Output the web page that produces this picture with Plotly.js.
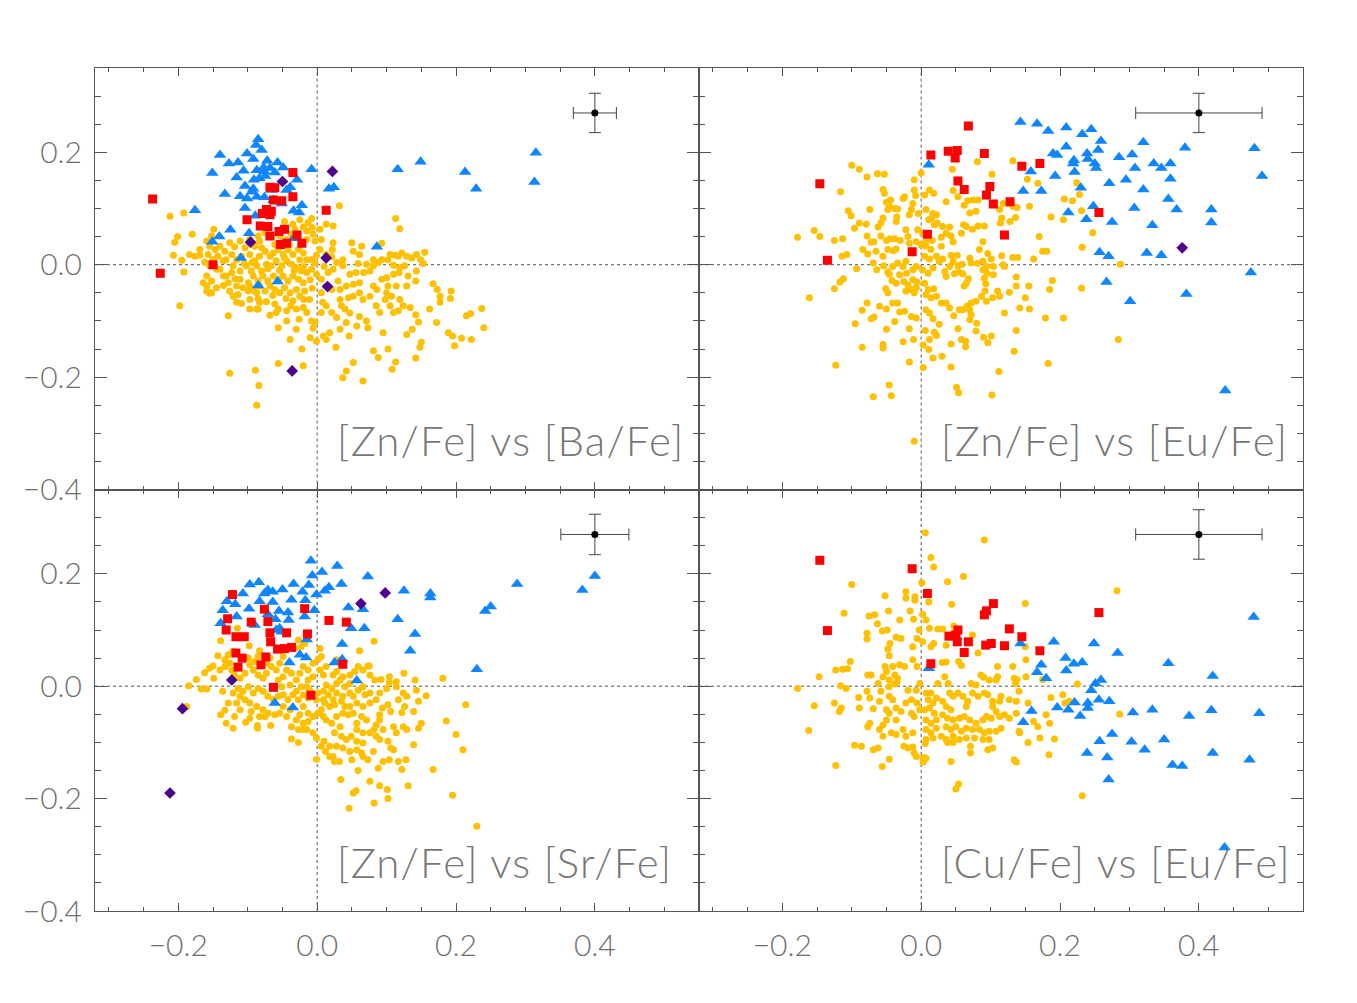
<!DOCTYPE html>
<html>
<head>
<meta charset="utf-8">
<script src="https://cdn.plot.ly/plotly-3.0.1.min.js"></script>
<style>
  html, body { margin: 0; padding: 0; background: #ffffff; }
  #chart { width: 1357px; height: 1003px; }
</style>
</head>
<body>
<div id="chart"></div>
<script>
// ---------------------------------------------------------------
// Abundance-ratio diagrams: four panels, [X/Fe] vs [Y/Fe]
// Groups: thin disc (yellow), thick disc (blue), transition (red),
// high-velocity stars (purple). Each entry is [x, y] in dex.
// ---------------------------------------------------------------

// Panel titles
const panelTitles = ['[Zn/Fe] vs [Ba/Fe]', '[Zn/Fe] vs [Eu/Fe]', '[Zn/Fe] vs [Sr/Fe]', '[Cu/Fe] vs [Eu/Fe]'];

// Axis tick labels (major ticks every 0.2 dex)
const xTickValues = [-0.2, 0.0, 0.2, 0.4];
const yTickValues = [-0.4, -0.2, 0.0, 0.2];

// Typical uncertainty crosses (centre and half-widths), one per panel
const errCenterX = [0.40, 0.40, 0.40, 0.40];
const errCenterY = [0.27, 0.27, 0.27, 0.27];
const errHalfX = [0.031, 0.091, 0.049, 0.091];
const errHalfY = [0.035, 0.035, 0.036, 0.044];

// ---------------- [Zn/Fe] vs [Ba/Fe] ----------------
const baYellow = [
[-0.212,0.086],[-0.192,0.092],[-0.180,0.054],[-0.201,0.050],[-0.205,0.040],[-0.207,0.017],[-0.195,0.008],[-0.192,-0.013],
[-0.184,0.018],[-0.176,0.015],[-0.169,0.017],[-0.198,-0.073],[-0.149,0.063],[-0.128,-0.091],[-0.126,-0.193],[-0.089,-0.188],
[-0.084,-0.215],[-0.087,-0.250],[-0.056,-0.176],[-0.020,-0.180],[0.032,0.105],[-0.008,0.082],[0.113,0.082],[0.119,0.064],
[0.237,-0.078],[0.240,-0.112],[0.221,-0.087],[0.215,-0.091],[0.222,-0.133],[0.208,-0.131],[0.198,-0.144],[0.189,-0.121],
[0.195,-0.127],[0.193,-0.047],[0.192,-0.060],[0.177,-0.056],[0.177,-0.067],[0.167,-0.034],[0.173,-0.044],[0.162,-0.079],
[0.172,-0.103],[0.155,0.022],[0.149,0.009],[0.153,0.002],[0.143,-0.011],[0.142,-0.029],[0.142,-0.089],[0.146,-0.102],
[0.134,-0.076],[0.129,-0.038],[0.131,-0.020],[0.142,-0.166],[0.150,-0.138],[0.148,-0.147],[0.129,-0.124],[0.137,-0.115],
[0.113,-0.173],[0.108,-0.186],[0.102,-0.150],[0.095,-0.121],[0.088,-0.165],[0.081,-0.153],[0.066,-0.207],[0.052,-0.174],
[0.042,-0.189],[0.037,-0.201],[0.027,-0.147],[0.046,-0.127],[0.033,-0.115],[0.018,-0.121],[0.013,-0.133],[0.009,-0.127],
[-0.001,-0.136],[-0.010,-0.130],[-0.022,-0.150],[-0.039,-0.133],[-0.030,-0.115],[-0.006,-0.113],[-0.003,-0.102],[-0.008,-0.100],
[-0.044,-0.100],[-0.056,-0.112],[-0.068,-0.090],[-0.085,-0.079],[-0.116,-0.067],[-0.109,-0.069],[-0.097,-0.062],[-0.114,-0.053],
[-0.099,-0.047],[-0.087,-0.050],[-0.085,-0.060],[-0.073,-0.066],[-0.061,-0.070],[-0.056,-0.079],[-0.059,-0.085],[-0.044,-0.082],
[-0.038,-0.073],[-0.030,-0.079],[-0.020,-0.076],[-0.015,-0.085],[-0.026,-0.097],[-0.035,-0.064],[-0.025,-0.056],[-0.019,-0.062],
[-0.011,-0.062],[-0.007,-0.042],[0.006,-0.050],[0.008,-0.067],[0.013,-0.073],[0.006,-0.085],[0.021,-0.085],[0.028,-0.094],
[0.035,-0.073],[0.040,-0.079],[0.047,-0.086],[0.061,-0.092],[0.057,-0.109],[0.042,-0.103],[0.071,-0.100],[0.073,-0.112],
[0.085,-0.073],[0.090,-0.085],[0.098,-0.062],[0.105,-0.073],[0.110,-0.085],[0.117,-0.082],[0.119,-0.062],[0.124,-0.073],
[0.100,-0.050],[0.107,-0.056],[0.102,-0.038],[0.114,-0.038],[0.093,-0.026],[0.100,-0.023],[0.110,-0.017],[0.118,-0.014],
[0.081,-0.038],[0.086,-0.044],[0.076,-0.056],[0.066,-0.062],[0.061,-0.050],[0.052,-0.056],[0.061,-0.032],[0.052,-0.035],
[0.042,-0.038],[0.033,-0.044],[0.047,-0.017],[0.056,-0.014],[0.067,-0.014],[0.076,-0.011],[0.081,-0.002],[0.088,0.004],
[0.093,0.009],[0.102,0.009],[0.105,0.018],[0.112,0.017],[0.117,0.015],[0.122,0.021],[0.129,0.015],[0.136,0.012],
[0.143,0.018],[0.126,-0.002],[0.119,-0.005],[0.110,-0.001],[0.093,0.038],[0.081,0.009],[0.061,0.018],[0.064,0.033],
[0.052,0.024],[0.050,0.039],[0.059,0.002],[0.071,0.001],[0.037,0.009],[0.028,0.004],[0.037,-0.002],[0.022,0.027],
[0.013,0.018],[0.021,0.014],[0.023,0.039],[0.004,0.027],[-0.001,0.017],[-0.008,0.009],[0.006,0.045],[-0.003,0.042],
[-0.006,0.054],[-0.015,0.060],[-0.020,0.067],[-0.007,0.066],[-0.013,0.075],[0.013,0.072],[0.023,0.069],[0.004,0.063],
[-0.001,-0.017],[0.006,-0.026],[0.016,-0.014],[0.023,-0.008],[0.013,-0.038],[0.021,-0.044],[0.030,-0.029],[0.033,-0.062],
[0.045,-0.059],[-0.155,0.033],[-0.147,0.027],[-0.140,0.033],[-0.133,0.024],[-0.157,0.018],[-0.150,0.009],[-0.143,0.015],
[-0.135,0.007],[-0.162,0.005],[-0.155,-0.002],[-0.145,-0.008],[-0.159,-0.020],[-0.152,-0.029],[-0.159,-0.038],[-0.152,-0.050],
[-0.145,-0.041],[-0.135,-0.037],[-0.131,-0.020],[-0.123,-0.014],[-0.128,-0.032],[-0.121,-0.056],[-0.126,-0.047],[-0.116,-0.038],
[-0.111,-0.026],[-0.107,-0.041],[-0.099,-0.032],[-0.131,0.009],[-0.123,0.018],[-0.116,0.009],[-0.109,0.015],[-0.126,0.039],
[-0.119,0.032],[-0.111,0.042],[-0.104,0.030],[-0.097,0.045],[-0.090,0.033],[-0.083,0.042],[-0.097,0.018],[-0.090,0.007],
[-0.083,0.015],[-0.075,0.024],[-0.068,0.015],[-0.102,-0.002],[-0.095,-0.011],[-0.087,-0.002],[-0.080,-0.011],[-0.073,0.001],
[-0.066,-0.002],[-0.059,0.007],[-0.051,-0.002],[-0.044,0.007],[-0.037,0.001],[-0.063,0.021],[-0.056,0.027],[-0.049,0.018],
[-0.042,0.027],[-0.035,0.018],[-0.027,0.027],[-0.020,0.021],[-0.015,0.009],[-0.025,0.009],[-0.030,-0.005],[-0.023,-0.011],
[-0.015,-0.014],[-0.008,-0.008],[-0.092,-0.020],[-0.085,-0.029],[-0.078,-0.020],[-0.071,-0.029],[-0.063,-0.020],[-0.056,-0.026],
[-0.049,-0.020],[-0.042,-0.029],[-0.035,-0.020],[-0.027,-0.026],[-0.020,-0.032],[-0.097,-0.038],[-0.090,-0.047],[-0.083,-0.038],
[-0.075,-0.047],[-0.068,-0.038],[-0.061,-0.044],[-0.054,-0.050],[-0.047,-0.041],[-0.039,-0.050],[-0.030,-0.044],[-0.018,-0.047],
[-0.140,-0.008],[-0.135,-0.020],[-0.121,-0.002],[-0.111,-0.011],[-0.085,0.051],[-0.075,0.057],[-0.066,0.051],[-0.054,0.051],
[-0.044,0.045],[-0.037,0.054],[-0.047,0.077],[-0.035,0.072],[-0.025,0.080],[-0.032,0.063],[-0.015,0.045],[-0.159,0.042],
[-0.152,0.051],[-0.169,0.027],[-0.087,-0.079],[-0.083,-0.067],[-0.097,-0.079],[-0.159,-0.047],[-0.155,-0.051],[-0.164,-0.032],
[-0.094,0.004],[-0.071,-0.007],[-0.047,0.012],[-0.033,-0.010],[-0.061,0.036],[-0.040,0.036],[-0.080,0.030],[-0.105,0.002],
[-0.118,-0.025],[-0.064,-0.055],[-0.045,-0.060],[-0.010,-0.027],[-0.003,0.003],[0.010,-0.003],[-0.020,-0.003],[-0.054,-0.010]
];
const baBlue = [
[-0.085,0.223],[-0.088,0.213],[-0.080,0.204],[-0.101,0.198],[-0.140,0.195],[-0.114,0.182],[-0.127,0.180],[-0.092,0.188],
[-0.072,0.185],[-0.057,0.182],[-0.049,0.173],[-0.151,0.163],[-0.116,0.155],[-0.106,0.167],[-0.087,0.168],[-0.077,0.173],
[-0.075,0.158],[-0.061,0.164],[-0.091,0.151],[-0.092,0.135],[-0.104,0.140],[-0.111,0.122],[-0.133,0.126],[-0.101,0.118],
[-0.087,0.121],[-0.076,0.120],[-0.104,0.101],[-0.039,0.138],[-0.029,0.151],[-0.008,0.170],[-0.022,0.106],[-0.034,0.096],
[-0.026,0.093],[-0.176,0.097],[-0.125,0.062],[-0.141,0.050],[-0.151,0.041],[-0.098,0.056],[-0.110,0.012],[-0.089,0.087],
[-0.085,-0.037],[-0.057,-0.030],[0.017,0.135],[0.024,0.138],[-0.034,0.047],[0.086,0.032],[0.116,0.170],[0.149,0.183],
[0.213,0.165],[0.229,0.135],[0.315,0.199],[0.313,0.147],[-0.068,0.172],[-0.083,0.154],[-0.066,0.133],[-0.063,0.115],
[-0.051,0.109],[-0.076,0.166],[-0.094,0.130],[-0.044,0.133]
];
const baRed = [
[-0.237,0.117],[-0.226,-0.015],[-0.150,0.000],[-0.035,0.164],[0.013,0.097],[-0.068,0.138],[-0.061,0.137],[-0.063,0.115],
[-0.051,0.114],[-0.035,0.121],[-0.073,0.098],[-0.066,0.095],[-0.079,0.091],[-0.068,0.089],[-0.101,0.080],[-0.082,0.069],
[-0.071,0.068],[-0.068,0.051],[-0.055,0.059],[-0.047,0.063],[-0.029,0.053],[-0.022,0.038],[-0.053,0.036],[-0.044,0.038]
];
const baPurple = [[-0.050,0.148],[0.022,0.166],[-0.096,0.040],[0.013,0.012],[0.015,-0.039],[-0.036,-0.189]];

// ---------------- [Zn/Fe] vs [Eu/Fe] ----------------
const euYellow = [
[-0.178,0.049],[-0.161,-0.059],[-0.154,0.061],[-0.146,0.050],[-0.125,0.043],[-0.113,0.046],[-0.116,0.130],[-0.100,0.177],
[-0.089,0.170],[-0.078,0.156],[-0.063,0.162],[-0.053,0.161],[-0.105,0.096],[-0.101,0.087],[-0.096,0.065],[-0.089,0.074],
[-0.079,0.072],[-0.074,0.098],[-0.114,0.015],[-0.107,0.018],[-0.125,-0.043],[-0.117,-0.031],[-0.112,-0.025],[-0.093,-0.007],
[-0.095,-0.105],[-0.123,-0.179],[-0.085,-0.147],[-0.078,-0.068],[-0.084,0.027],[-0.077,0.019],[-0.078,0.051],[-0.072,0.040],
[-0.069,0.003],[-0.062,0.067],[-0.058,0.051],[-0.055,0.134],[-0.053,0.127],[-0.050,0.111],[-0.046,0.104],[-0.048,0.098],
[-0.044,0.115],[-0.038,0.100],[-0.034,0.099],[-0.026,0.118],[-0.024,0.121],[-0.035,0.085],[-0.036,0.077],[-0.055,0.083],
[-0.058,0.074],[-0.050,0.043],[-0.045,0.046],[-0.038,0.046],[-0.030,0.043],[-0.040,0.025],[-0.036,0.028],[-0.022,0.062],
[-0.019,0.050],[-0.017,0.089],[-0.014,0.098],[-0.008,0.123],[-0.010,0.133],[-0.012,0.109],[-0.004,0.091],[0.000,0.163],
[-0.010,0.151],[0.005,0.124],[0.012,0.133],[0.018,0.127],[0.007,0.098],[0.017,0.091],[0.022,0.089],[0.011,0.080],
[0.015,0.083],[0.019,0.071],[0.023,0.074],[0.007,0.041],[0.016,0.043],[0.029,0.033],[0.014,0.027],[0.007,0.033],
[0.005,0.015],[0.012,0.010],[0.022,0.015],[0.026,0.006],[0.031,0.010],[0.017,-0.006],[0.010,-0.015],[0.002,-0.009],
[-0.007,-0.003],[-0.012,-0.009],[-0.022,0.006],[-0.026,-0.003],[-0.034,0.003],[-0.041,-0.003],[-0.048,-0.013],[-0.054,-0.002],
[-0.064,-0.009],[-0.046,-0.017],[-0.031,-0.018],[-0.021,-0.015],[-0.051,-0.043],[-0.048,-0.050],[-0.042,-0.028],[-0.036,-0.033],
[-0.025,-0.030],[-0.019,-0.036],[-0.012,-0.027],[-0.006,-0.031],[-0.022,-0.047],[-0.014,-0.044],[-0.010,-0.050],[-0.007,-0.041],
[0.005,-0.033],[0.010,-0.044],[0.018,-0.043],[0.007,-0.053],[0.014,-0.059],[0.034,-0.012],[0.036,-0.021],[0.048,-0.016],
[0.054,-0.013],[0.060,-0.016],[0.068,-0.025],[0.065,-0.033],[0.062,-0.038],[0.043,0.017],[0.052,0.017],[0.053,-0.002],
[0.059,0.001],[0.070,0.012],[0.029,0.049],[0.036,0.056],[0.043,0.051],[0.046,0.041],[0.058,0.056],[0.031,0.068],
[0.041,0.067],[0.046,0.132],[0.053,0.121],[0.062,0.106],[0.067,0.114],[0.045,0.170],[0.036,0.112],[0.070,0.092],
[0.079,0.095],[0.061,0.071],[0.065,0.068],[0.074,0.063],[0.082,0.069],[0.091,0.069],[0.075,0.115],[0.082,0.115],
[0.089,0.041],[0.084,0.027],[0.096,0.020],[0.101,0.010],[0.094,-0.003],[0.089,0.006],[0.072,0.003],[0.081,0.002],
[0.089,-0.009],[0.095,-0.015],[0.104,-0.018],[0.104,-0.003],[0.091,-0.024],[0.093,-0.034],[0.092,-0.047],[0.087,-0.056],
[0.110,-0.047],[0.113,-0.056],[0.094,-0.065],[0.103,-0.059],[0.079,-0.065],[0.072,-0.068],[0.070,-0.080],[0.066,-0.074],
[0.060,-0.080],[0.072,-0.089],[0.070,-0.098],[0.036,-0.068],[0.041,-0.077],[0.047,-0.091],[0.055,-0.080],[0.017,-0.096],
[0.026,-0.106],[0.006,-0.117],[0.019,-0.120],[0.022,-0.126],[0.012,-0.133],[0.030,-0.163],[0.017,-0.166],[0.011,-0.151],
[0.003,-0.143],[0.043,-0.141],[0.053,-0.114],[0.058,-0.133],[0.064,-0.146],[0.064,-0.136],[0.043,-0.182],[0.051,-0.218],
[0.054,-0.228],[0.080,-0.104],[0.079,-0.118],[0.090,-0.129],[0.096,-0.139],[0.101,-0.127],[0.112,-0.190],[0.102,-0.232],
[0.120,-0.086],[0.127,-0.049],[0.137,-0.038],[0.142,-0.077],[0.137,-0.117],[0.134,-0.154],[0.150,-0.059],[0.116,0.016],
[0.132,0.013],[0.139,0.013],[0.118,0.000],[0.120,-0.003],[0.114,0.074],[0.116,0.083],[0.113,0.098],[0.118,0.109],
[0.127,0.109],[0.132,0.104],[0.136,0.084],[0.128,0.077],[0.138,0.102],[0.156,0.104],[0.102,0.161],[0.081,0.183],
[0.132,0.185],[0.153,0.152],[0.168,0.145],[0.170,0.050],[0.162,0.010],[0.175,0.024],[0.181,0.024],[0.187,0.085],
[0.205,0.080],[0.206,0.117],[0.218,0.114],[0.224,0.146],[0.228,0.125],[0.231,0.096],[0.232,0.031],[0.247,0.057],
[0.189,-0.028],[0.185,-0.044],[0.156,-0.079],[0.179,-0.095],[0.205,-0.095],[0.183,-0.176],[0.231,-0.042],[0.287,0.001],
[0.284,-0.133],[-0.005,0.062],[0.002,0.056],[-0.007,0.041],[0.000,0.035],[-0.017,0.038],[-0.012,0.021],[-0.048,0.027],
[-0.055,0.015],[-0.065,0.024],[-0.068,0.041],[0.022,-0.056],[0.029,-0.068],[0.041,-0.003],[0.046,0.006],[0.007,-0.080],
[0.012,-0.086],[-0.007,-0.095],[-0.014,-0.092],[-0.031,-0.084],[-0.024,-0.083],[-0.041,-0.068],[-0.034,-0.068],[-0.050,-0.079],
[-0.060,-0.074],[-0.068,-0.093],[-0.072,-0.096],[-0.038,-0.101],[-0.050,-0.115],[-0.055,-0.142],[-0.055,-0.148],[-0.026,-0.137],
[-0.017,-0.114],[-0.011,-0.133],[-0.017,-0.173],[0.003,-0.183],[-0.046,-0.214],[-0.043,-0.233],[-0.069,-0.235],[-0.085,-0.081],
[0.137,-0.022],[0.155,-0.038],[-0.010,-0.314]
];
const euBlue = [
[0.011,0.178],[0.143,0.254],[0.167,0.251],[0.183,0.238],[0.209,0.244],[0.232,0.232],[0.245,0.241],[0.259,0.220],
[0.209,0.210],[0.190,0.198],[0.196,0.195],[0.220,0.186],[0.219,0.180],[0.239,0.198],[0.240,0.188],[0.250,0.180],
[0.252,0.172],[0.255,0.204],[0.221,0.165],[0.193,0.158],[0.158,0.166],[0.147,0.131],[0.173,0.131],[0.230,0.137],
[0.212,0.093],[0.238,0.081],[0.248,0.104],[0.271,0.145],[0.275,0.076],[0.285,0.191],[0.304,0.196],[0.295,0.151],
[0.308,0.172],[0.320,0.218],[0.320,0.134],[0.307,0.101],[0.335,0.180],[0.346,0.172],[0.359,0.180],[0.359,0.153],
[0.356,0.117],[0.368,0.098],[0.333,0.070],[0.380,0.208],[0.418,0.098],[0.418,0.075],[0.480,0.207],[0.491,0.158],
[0.257,0.022],[0.270,0.015],[0.325,0.021],[0.346,0.017],[0.267,-0.031],[0.301,-0.065],[0.382,-0.052],[0.475,-0.014],
[0.438,-0.224]
];
const euRed = [
[-0.146,0.144],[-0.135,0.008],[-0.013,0.023],[0.009,0.054],[0.014,0.195],[0.039,0.202],[0.052,0.203],[0.049,0.190],
[0.068,0.247],[0.091,0.198],[0.053,0.149],[0.062,0.134],[0.099,0.139],[0.094,0.124],[0.104,0.108],[0.128,0.112],
[0.120,0.053],[0.145,0.175],[0.171,0.180],[0.256,0.093]
];
const euPurple = [[0.376,0.030]];

// ---------------- [Zn/Fe] vs [Sr/Fe] ----------------
const srYellow = [
[-0.185,0.001],[-0.174,0.012],[-0.167,-0.005],[-0.159,-0.005],[-0.188,-0.036],[-0.162,0.024],[-0.155,0.032],[-0.150,0.036],
[-0.149,0.014],[-0.139,0.081],[-0.140,0.029],[-0.133,0.035],[-0.143,0.054],[-0.128,0.056],[-0.121,0.062],[-0.136,-0.009],
[-0.139,-0.051],[-0.133,-0.043],[-0.131,-0.066],[-0.121,-0.075],[-0.128,-0.030],[-0.103,-0.064],[-0.115,0.103],[-0.098,0.072],
[-0.083,0.063],[-0.086,-0.070],[-0.086,-0.075],[-0.067,-0.070],[-0.037,-0.094],[-0.027,-0.100],[-0.001,-0.130],[0.010,-0.098],
[0.012,-0.116],[0.018,-0.107],[0.023,-0.125],[0.032,-0.134],[0.025,-0.134],[0.034,-0.166],[0.050,-0.131],[0.052,-0.190],
[0.056,-0.186],[0.046,-0.217],[0.059,-0.150],[0.064,-0.119],[0.066,-0.125],[0.073,-0.131],[0.081,-0.116],[0.076,-0.169],
[0.082,-0.208],[0.088,-0.146],[0.090,-0.177],[0.095,-0.134],[0.101,-0.184],[0.102,-0.200],[0.104,-0.131],[0.106,-0.110],
[0.110,-0.113],[0.117,-0.134],[0.122,-0.148],[0.128,-0.131],[0.131,-0.177],[0.139,-0.104],[0.146,-0.075],[0.150,-0.066],
[0.129,-0.077],[0.124,-0.072],[0.114,-0.083],[0.110,-0.072],[0.122,-0.047],[0.126,-0.036],[0.139,-0.045],[0.146,-0.027],
[0.157,-0.017],[0.143,-0.007],[0.141,0.011],[0.125,0.023],[0.114,0.008],[0.114,-0.001],[0.129,-0.018],[0.117,-0.024],
[0.104,0.017],[0.104,0.007],[0.092,0.012],[0.100,-0.004],[0.090,-0.012],[0.085,-0.024],[0.102,-0.033],[0.106,-0.045],
[0.094,-0.039],[0.090,-0.051],[0.090,-0.060],[0.085,-0.069],[0.095,-0.077],[0.085,-0.089],[0.090,-0.095],[0.102,-0.098],
[0.082,-0.077],[0.076,-0.083],[0.071,-0.060],[0.064,-0.054],[0.057,-0.066],[0.057,-0.077],[0.066,-0.083],[0.049,-0.089],
[0.057,-0.098],[0.066,-0.101],[0.042,-0.095],[0.035,-0.089],[0.025,-0.083],[0.033,-0.072],[0.021,-0.066],[0.013,-0.060],
[0.028,-0.054],[0.037,-0.048],[0.045,-0.051],[0.052,-0.048],[0.047,-0.036],[0.057,-0.030],[0.066,-0.036],[0.076,-0.030],
[0.069,-0.015],[0.076,-0.012],[0.066,-0.001],[0.059,-0.007],[0.047,-0.012],[0.052,-0.018],[0.037,-0.018],[0.028,-0.012],
[0.023,-0.024],[0.018,-0.036],[0.011,-0.030],[0.006,-0.042],[0.001,-0.048],[0.009,-0.054],[-0.006,-0.054],[-0.013,-0.048],
[-0.020,-0.036],[-0.025,-0.051],[-0.030,-0.060],[-0.020,-0.066],[-0.037,-0.072],[-0.027,-0.077],[-0.015,-0.077],[-0.006,-0.083],
[-0.001,-0.092],[0.006,-0.107],[-0.044,-0.054],[-0.039,-0.042],[-0.049,-0.036],[-0.054,-0.048],[-0.061,-0.051],[-0.071,-0.048],
[-0.078,-0.042],[-0.075,-0.054],[-0.087,-0.036],[-0.095,-0.045],[-0.097,-0.030],[-0.104,-0.024],[-0.111,-0.018],[-0.116,-0.030],
[-0.121,-0.012],[-0.114,-0.004],[-0.107,-0.009],[-0.099,-0.001],[-0.092,-0.012],[-0.085,-0.004],[-0.078,-0.009],[-0.071,-0.018],
[-0.063,-0.024],[-0.056,-0.018],[-0.049,-0.015],[-0.042,-0.024],[-0.035,-0.015],[-0.027,-0.024],[-0.020,-0.015],[-0.013,-0.021],
[-0.001,-0.024],[0.001,-0.012],[0.009,-0.009],[0.016,-0.015],[0.013,0.002],[0.021,-0.004],[0.028,0.005],[0.033,0.011],
[0.023,0.020],[0.028,0.026],[0.037,0.017],[0.047,0.020],[0.054,0.026],[0.059,0.035],[0.066,0.029],[0.073,0.036],
[0.076,0.020],[0.083,0.011],[0.047,0.005],[0.040,-0.001],[0.009,0.020],[0.004,0.029],[0.001,0.047],[0.006,0.053],
[0.004,0.067],[0.013,0.035],[-0.006,0.041],[-0.013,0.029],[-0.006,0.017],[-0.013,0.011],[-0.020,0.035],[-0.025,0.023],
[-0.030,0.011],[-0.037,0.023],[-0.044,0.029],[-0.049,0.017],[-0.039,0.002],[-0.051,-0.001],[-0.056,0.011],[-0.059,0.029],
[-0.066,0.035],[-0.073,0.023],[-0.078,0.014],[-0.085,0.020],[-0.092,0.029],[-0.097,0.038],[-0.090,0.044],[-0.104,0.023],
[-0.111,0.014],[-0.119,0.020],[-0.123,0.029],[-0.126,0.041],[-0.133,0.047],[-0.099,0.050],[-0.085,0.053],[-0.023,0.070],
[-0.018,0.076],[-0.027,0.082],[-0.032,0.067],[-0.049,0.053],[-0.054,0.041],[-0.073,0.041],[-0.068,0.050],[0.082,0.080],
[0.061,0.063],[0.028,0.047],[0.033,0.041],[0.075,0.036],[0.124,-0.012],[0.181,0.014],[0.214,-0.033],[0.186,-0.062],
[0.200,-0.086],[0.210,-0.113],[0.167,-0.148],[0.195,-0.194],[0.230,-0.249],[-0.030,-0.009],[-0.023,-0.001],[-0.011,-0.007],
[-0.015,-0.001],[0.009,-0.024],[0.025,-0.033],[0.035,-0.027],[0.040,-0.036],[0.028,-0.107],[0.037,-0.110],[0.057,-0.113],
[0.047,-0.116],[0.018,-0.125],[-0.013,-0.063],[-0.020,-0.077],[-0.083,-0.054],[-0.097,-0.057],[-0.111,-0.042],[-0.119,-0.054]
];
const srBlue = [
[-0.009,0.223],[0.029,0.214],[0.007,0.203],[-0.007,0.197],[0.073,0.195],[-0.097,0.181],[-0.084,0.185],[-0.071,0.171],
[-0.076,0.165],[-0.064,0.168],[-0.050,0.172],[-0.034,0.182],[-0.012,0.180],[-0.021,0.168],[-0.001,0.163],[0.011,0.170],
[0.017,0.176],[0.035,0.182],[-0.107,0.165],[-0.130,0.151],[-0.118,0.146],[-0.083,0.151],[-0.064,0.150],[-0.037,0.154],
[-0.017,0.153],[-0.136,0.135],[-0.098,0.138],[-0.116,0.124],[-0.071,0.128],[-0.055,0.134],[-0.042,0.131],[-0.004,0.135],
[-0.018,0.124],[-0.060,0.119],[-0.041,0.118],[-0.139,0.112],[-0.090,0.109],[-0.054,0.103],[-0.051,0.097],[-0.059,0.100],
[0.045,0.140],[0.066,0.137],[0.125,0.170],[0.163,0.165],[0.163,0.158],[0.049,0.103],[0.068,0.103],[0.116,0.119],
[0.141,0.093],[0.036,0.075],[0.134,0.063],[-0.015,0.083],[-0.025,0.056],[-0.016,0.051],[0.025,0.042],[0.036,0.048],
[-0.040,0.042],[0.057,0.010],[0.230,0.030],[0.242,0.134],[-0.061,-0.030],[-0.035,-0.038],[0.250,0.142],[0.288,0.182],
[0.382,0.171],[0.400,0.196]
];
const srRed = [
[-0.122,0.163],[-0.129,0.120],[-0.131,0.100],[-0.076,0.137],[-0.095,0.114],[-0.071,0.115],[-0.018,0.138],[-0.068,0.095],
[-0.044,0.095],[-0.014,0.093],[0.017,0.117],[0.042,0.114],[-0.117,0.088],[-0.105,0.088],[-0.067,0.079],[-0.057,0.066],
[-0.047,0.067],[-0.037,0.069],[-0.117,0.059],[-0.108,0.050],[-0.074,0.052],[-0.081,0.038],[-0.114,0.034],[0.037,0.039],
[-0.063,-0.002],[-0.009,-0.016]
];
const srPurple = [[-0.123,0.011],[-0.194,-0.040],[-0.212,-0.190],[0.063,0.147],[0.098,0.166]];

// ---------------- [Cu/Fe] vs [Eu/Fe] ----------------
const cuYellow = [
[0.006,0.273],[0.091,0.260],[0.014,0.229],[0.018,0.212],[0.038,0.186],[0.061,0.195],[-0.100,0.181],[0.001,0.184],
[-0.052,0.161],[-0.022,0.168],[-0.022,0.157],[-0.009,0.159],[-0.009,0.153],[0.011,0.150],[0.044,0.146],[0.150,0.147],
[-0.111,0.130],[-0.075,0.125],[-0.067,0.127],[-0.047,0.134],[-0.031,0.118],[-0.016,0.134],[-0.011,0.119],[0.002,0.128],
[0.007,0.118],[0.012,0.103],[-0.063,0.111],[-0.078,0.094],[-0.078,0.084],[-0.056,0.098],[-0.049,0.100],[-0.036,0.087],
[-0.029,0.085],[-0.045,0.076],[-0.003,0.100],[-0.006,0.085],[0.002,0.079],[0.014,0.070],[0.018,0.076],[-0.012,0.070],
[-0.012,0.047],[-0.048,0.066],[-0.046,0.054],[-0.052,0.035],[-0.050,0.026],[0.024,0.102],[0.031,0.102],[0.036,0.073],
[0.047,0.107],[0.046,0.094],[0.074,0.091],[0.082,0.059],[0.110,0.035],[0.132,0.035],[0.134,0.014],[0.150,0.070],
[0.151,0.047],[0.282,0.170],[0.030,0.042],[0.036,0.043],[0.054,0.044],[0.058,0.037],[-0.102,0.044],[-0.123,0.029],
[-0.113,0.030],[-0.106,0.031],[-0.147,0.017],[-0.178,-0.004],[-0.154,-0.035],[-0.162,-0.079],[-0.116,0.001],[-0.108,-0.004],
[-0.125,-0.030],[-0.115,-0.039],[-0.118,-0.045],[-0.123,-0.141],[-0.090,-0.020],[-0.089,-0.039],[-0.077,0.020],[-0.072,0.020],
[-0.078,-0.009],[-0.074,-0.021],[-0.077,-0.072],[-0.074,-0.066],[-0.096,-0.105],[-0.086,-0.107],[-0.069,-0.113],[-0.062,-0.110],
[-0.056,-0.143],[-0.046,-0.130],[-0.069,-0.040],[-0.060,-0.027],[-0.062,0.005],[-0.055,0.017],[-0.058,-0.009],[-0.046,0.011],
[-0.038,0.020],[-0.034,0.014],[-0.041,0.035],[-0.031,0.038],[-0.024,0.035],[-0.046,-0.001],[-0.038,0.004],[-0.035,0.007],
[-0.046,-0.018],[-0.041,-0.024],[-0.050,-0.042],[-0.046,-0.048],[-0.036,-0.039],[-0.029,-0.045],[-0.036,-0.060],[-0.050,-0.060],
[-0.055,-0.069],[-0.043,-0.083],[-0.036,-0.086],[-0.060,-0.077],[-0.055,-0.089],[-0.026,-0.077],[-0.022,-0.089],[-0.012,-0.083],
[-0.025,-0.107],[-0.019,-0.110],[-0.012,-0.108],[-0.010,-0.119],[-0.007,-0.125],[-0.022,-0.030],[-0.014,-0.024],[-0.019,-0.007],
[-0.007,-0.007],[-0.014,-0.048],[-0.010,-0.054],[-0.006,-0.030],[-0.002,-0.042],[-0.006,0.035],[-0.002,0.005],[0.007,-0.012],
[0.014,-0.012],[0.010,-0.024],[0.017,-0.030],[0.022,-0.021],[0.005,-0.042],[0.012,-0.039],[0.019,-0.048],[0.007,-0.060],
[0.014,-0.066],[0.022,-0.060],[0.007,-0.077],[0.014,-0.083],[0.022,-0.075],[0.007,-0.095],[0.017,-0.092],[0.006,-0.102],
[0.003,-0.127],[0.007,-0.128],[0.003,-0.135],[0.024,0.005],[0.034,0.017],[0.039,0.005],[0.041,-0.012],[0.046,-0.018],
[0.053,-0.012],[0.060,-0.018],[0.067,-0.027],[0.065,-0.036],[0.072,0.005],[0.079,0.002],[0.086,0.020],[0.090,0.016],
[0.098,0.011],[0.110,0.017],[0.108,0.011],[0.074,-0.012],[0.082,-0.018],[0.091,-0.012],[0.096,-0.015],[0.103,-0.027],
[0.113,-0.027],[0.115,-0.018],[0.103,-0.036],[0.127,-0.024],[0.137,-0.027],[0.136,0.005],[0.138,0.012],[0.031,-0.027],
[0.036,-0.036],[0.043,-0.042],[0.031,-0.051],[0.038,-0.057],[0.046,-0.060],[0.055,-0.057],[0.062,-0.054],[0.070,-0.060],
[0.079,-0.066],[0.089,-0.060],[0.094,-0.054],[0.101,-0.057],[0.108,-0.045],[0.113,-0.054],[0.120,-0.051],[0.127,-0.057],
[0.137,-0.048],[0.154,-0.030],[0.036,-0.072],[0.043,-0.077],[0.050,-0.072],[0.058,-0.080],[0.065,-0.075],[0.074,-0.077],
[0.084,-0.077],[0.091,-0.083],[0.098,-0.080],[0.108,-0.080],[0.115,-0.075],[0.029,-0.089],[0.036,-0.095],[0.046,-0.089],
[0.055,-0.095],[0.065,-0.092],[0.077,-0.092],[0.089,-0.095],[0.098,-0.095],[0.103,-0.110],[0.096,-0.113],[0.071,-0.107],
[0.071,-0.119],[0.038,-0.100],[0.046,-0.100],[0.043,-0.134],[0.054,-0.174],[0.050,-0.183],[0.134,-0.131],[0.137,-0.135],
[0.141,-0.080],[0.142,-0.083],[0.154,-0.100],[0.168,-0.072],[0.171,-0.092],[0.162,-0.063],[0.180,-0.051],[0.185,-0.066],
[0.192,-0.094],[0.184,-0.122],[0.204,-0.015],[0.207,-0.030],[0.213,-0.027],[0.225,0.004],[0.187,-0.020],[0.151,0.017],
[0.175,0.012],[0.141,-0.009],[0.232,-0.195],[0.286,-0.050]
];
const cuBlue = [
[0.011,0.032],[0.143,0.076],[0.191,0.079],[0.249,0.076],[0.283,0.059],[0.173,0.038],[0.167,0.025],[0.208,0.050],
[0.220,0.040],[0.232,0.042],[0.209,0.028],[0.180,0.014],[0.251,0.005],[0.259,0.011],[0.245,-0.007],[0.159,-0.044],
[0.196,-0.038],[0.212,-0.042],[0.221,-0.029],[0.229,-0.053],[0.240,-0.039],[0.240,-0.030],[0.256,-0.024],[0.271,-0.027],
[0.147,-0.064],[0.275,-0.085],[0.257,-0.098],[0.239,-0.119],[0.268,-0.127],[0.270,-0.166],[0.356,0.041],[0.420,0.018],
[0.479,0.123],[0.305,-0.047],[0.333,-0.042],[0.386,-0.053],[0.418,-0.043],[0.487,-0.048],[0.303,-0.099],[0.322,-0.113],
[0.350,-0.095],[0.362,-0.140],[0.376,-0.142],[0.420,-0.119],[0.473,-0.131],[0.437,-0.287]
];
const cuRed = [
[-0.146,0.224],[-0.135,0.099],[-0.013,0.209],[0.009,0.165],[0.014,0.040],[0.040,0.089],[0.050,0.091],[0.053,0.100],
[0.052,0.079],[0.062,0.060],[0.068,0.079],[0.091,0.127],[0.094,0.134],[0.104,0.147],[0.093,0.073],[0.101,0.076],
[0.120,0.072],[0.127,0.102],[0.145,0.088],[0.171,0.063],[0.256,0.131]
];
const cuPurple = [];

// ---------------------------------------------------------------
// Drawing
// ---------------------------------------------------------------
const panels = [
  { yellow: baYellow, blue: baBlue, red: baRed, purple: baPurple },
  { yellow: euYellow, blue: euBlue, red: euRed, purple: euPurple },
  { yellow: srYellow, blue: srBlue, red: srRed, purple: srPurple },
  { yellow: cuYellow, blue: cuBlue, red: cuRed, purple: cuPurple }
];

const groupStyle = {
  yellow: { symbol: 'circle', size: 7, color: '#FFC000' },
  blue:   { symbol: 'triangle-up', size: 11, color: '#0F85FF' },
  red:    { symbol: 'square', size: 9, color: '#FF0000' },
  purple: { symbol: 'diamond', size: 9, color: '#4E008C' }
};

const frameColor = '#555555';
const labelFont = { family: 'Lato, "Liberation Sans", sans-serif', size: 30, color: '#6f6f6f', weight: 300 };

const traces = [];
panels.forEach((p, i) => {
  const suf = i === 0 ? '' : String(i + 1);
  ['yellow', 'blue', 'red', 'purple'].forEach(g => {
    const pts = p[g];
    if (!pts.length) return;
    const st = groupStyle[g];
    traces.push({
      type: 'scatter', mode: 'markers',
      x: pts.map(d => d[0]), y: pts.map(d => d[1]),
      xaxis: 'x' + suf, yaxis: 'y' + suf,
      marker: { symbol: st.symbol, size: st.size, color: st.color, line: { width: 0 } },
      hoverinfo: 'skip'
    });
  });
  // typical uncertainty cross
  traces.push({
    type: 'scatter', mode: 'markers',
    x: [errCenterX[i]], y: [errCenterY[i]],
    xaxis: 'x' + suf, yaxis: 'y' + suf,
    marker: { color: '#000000', size: 7 },
    error_x: { type: 'data', array: [errHalfX[i]], color: '#444444', thickness: 1, width: 6 },
    error_y: { type: 'data', array: [errHalfY[i]], color: '#444444', thickness: 1, width: 6 },
    hoverinfo: 'skip'
  });
});

function xAxis(domain, anchor, showLabels) {
  return {
    domain: domain, anchor: anchor, range: [-0.32, 0.55],
    tickmode: 'array', tickvals: xTickValues, tickformat: '.1f',
    showticklabels: showLabels, tickfont: labelFont, ticklabelstandoff: 8,
    ticks: 'inside', ticklen: 8, tickwidth: 1, tickcolor: frameColor,
    minor: { dtick: 0.05, tick0: 0, ticks: 'inside', ticklen: 4, tickwidth: 1, tickcolor: frameColor, showgrid: false },
    showline: true, linecolor: frameColor, linewidth: 1, mirror: 'allticks',
    showgrid: false, zeroline: false, fixedrange: true
  };
}
function yAxis(domain, anchor, showLabels) {
  return {
    domain: domain, anchor: anchor, range: [-0.4, 0.35],
    tickmode: 'array', tickvals: yTickValues, tickformat: '.1f',
    showticklabels: showLabels, tickfont: labelFont, ticklabelstandoff: 6,
    ticks: 'inside', ticklen: 12, tickwidth: 1, tickcolor: frameColor,
    minor: { dtick: 0.05, tick0: 0, ticks: 'inside', ticklen: 6, tickwidth: 1, tickcolor: frameColor, showgrid: false },
    showline: true, linecolor: frameColor, linewidth: 1, mirror: 'allticks',
    showgrid: false, zeroline: false, fixedrange: true
  };
}

// dotted zero lines in every panel
const shapes = [];
['', '2', '3', '4'].forEach(s => {
  shapes.push({ type: 'line', xref: 'x' + s, yref: 'y' + s + ' domain', x0: 0, x1: 0, y0: 0, y1: 1,
                line: { color: '#555555', width: 1, dash: 'dot' }, layer: 'below' });
  shapes.push({ type: 'line', xref: 'x' + s + ' domain', yref: 'y' + s, x0: 0, x1: 1, y0: 0, y1: 0,
                line: { color: '#555555', width: 1, dash: 'dot' }, layer: 'below' });
});

// panel titles in the lower right of each panel
const annotations = panelTitles.map((t, i) => {
  const s = i === 0 ? '' : String(i + 1);
  return {
    text: '<span style="letter-spacing:1.2px">' + t + '</span>', showarrow: false,
    xref: 'x' + s + ' domain', yref: 'y' + s + ' domain',
    x: 0.397, y: 0.117, xanchor: 'left', yanchor: 'middle',
    font: { family: 'Lato, "Liberation Sans", sans-serif', size: 42, color: '#777777', weight: 300 }
  };
});

const layout = {
  width: 1357, height: 1003,
  margin: { l: 95, r: 54, t: 68, b: 92 },
  paper_bgcolor: '#ffffff', plot_bgcolor: '#ffffff',
  showlegend: false,
  xaxis:  xAxis([0, 0.5], 'y', false),
  yaxis:  yAxis([0.5, 1], 'x', true),
  xaxis2: xAxis([0.5, 1], 'y2', false),
  yaxis2: yAxis([0.5, 1], 'x2', false),
  xaxis3: xAxis([0, 0.5], 'y3', true),
  yaxis3: yAxis([0, 0.5], 'x3', true),
  xaxis4: xAxis([0.5, 1], 'y4', true),
  yaxis4: yAxis([0, 0.5], 'x4', false),
  shapes: shapes,
  annotations: annotations
};

Plotly.newPlot('chart', traces, layout, { displayModeBar: false, staticPlot: true });
</script>
</body>
</html>
